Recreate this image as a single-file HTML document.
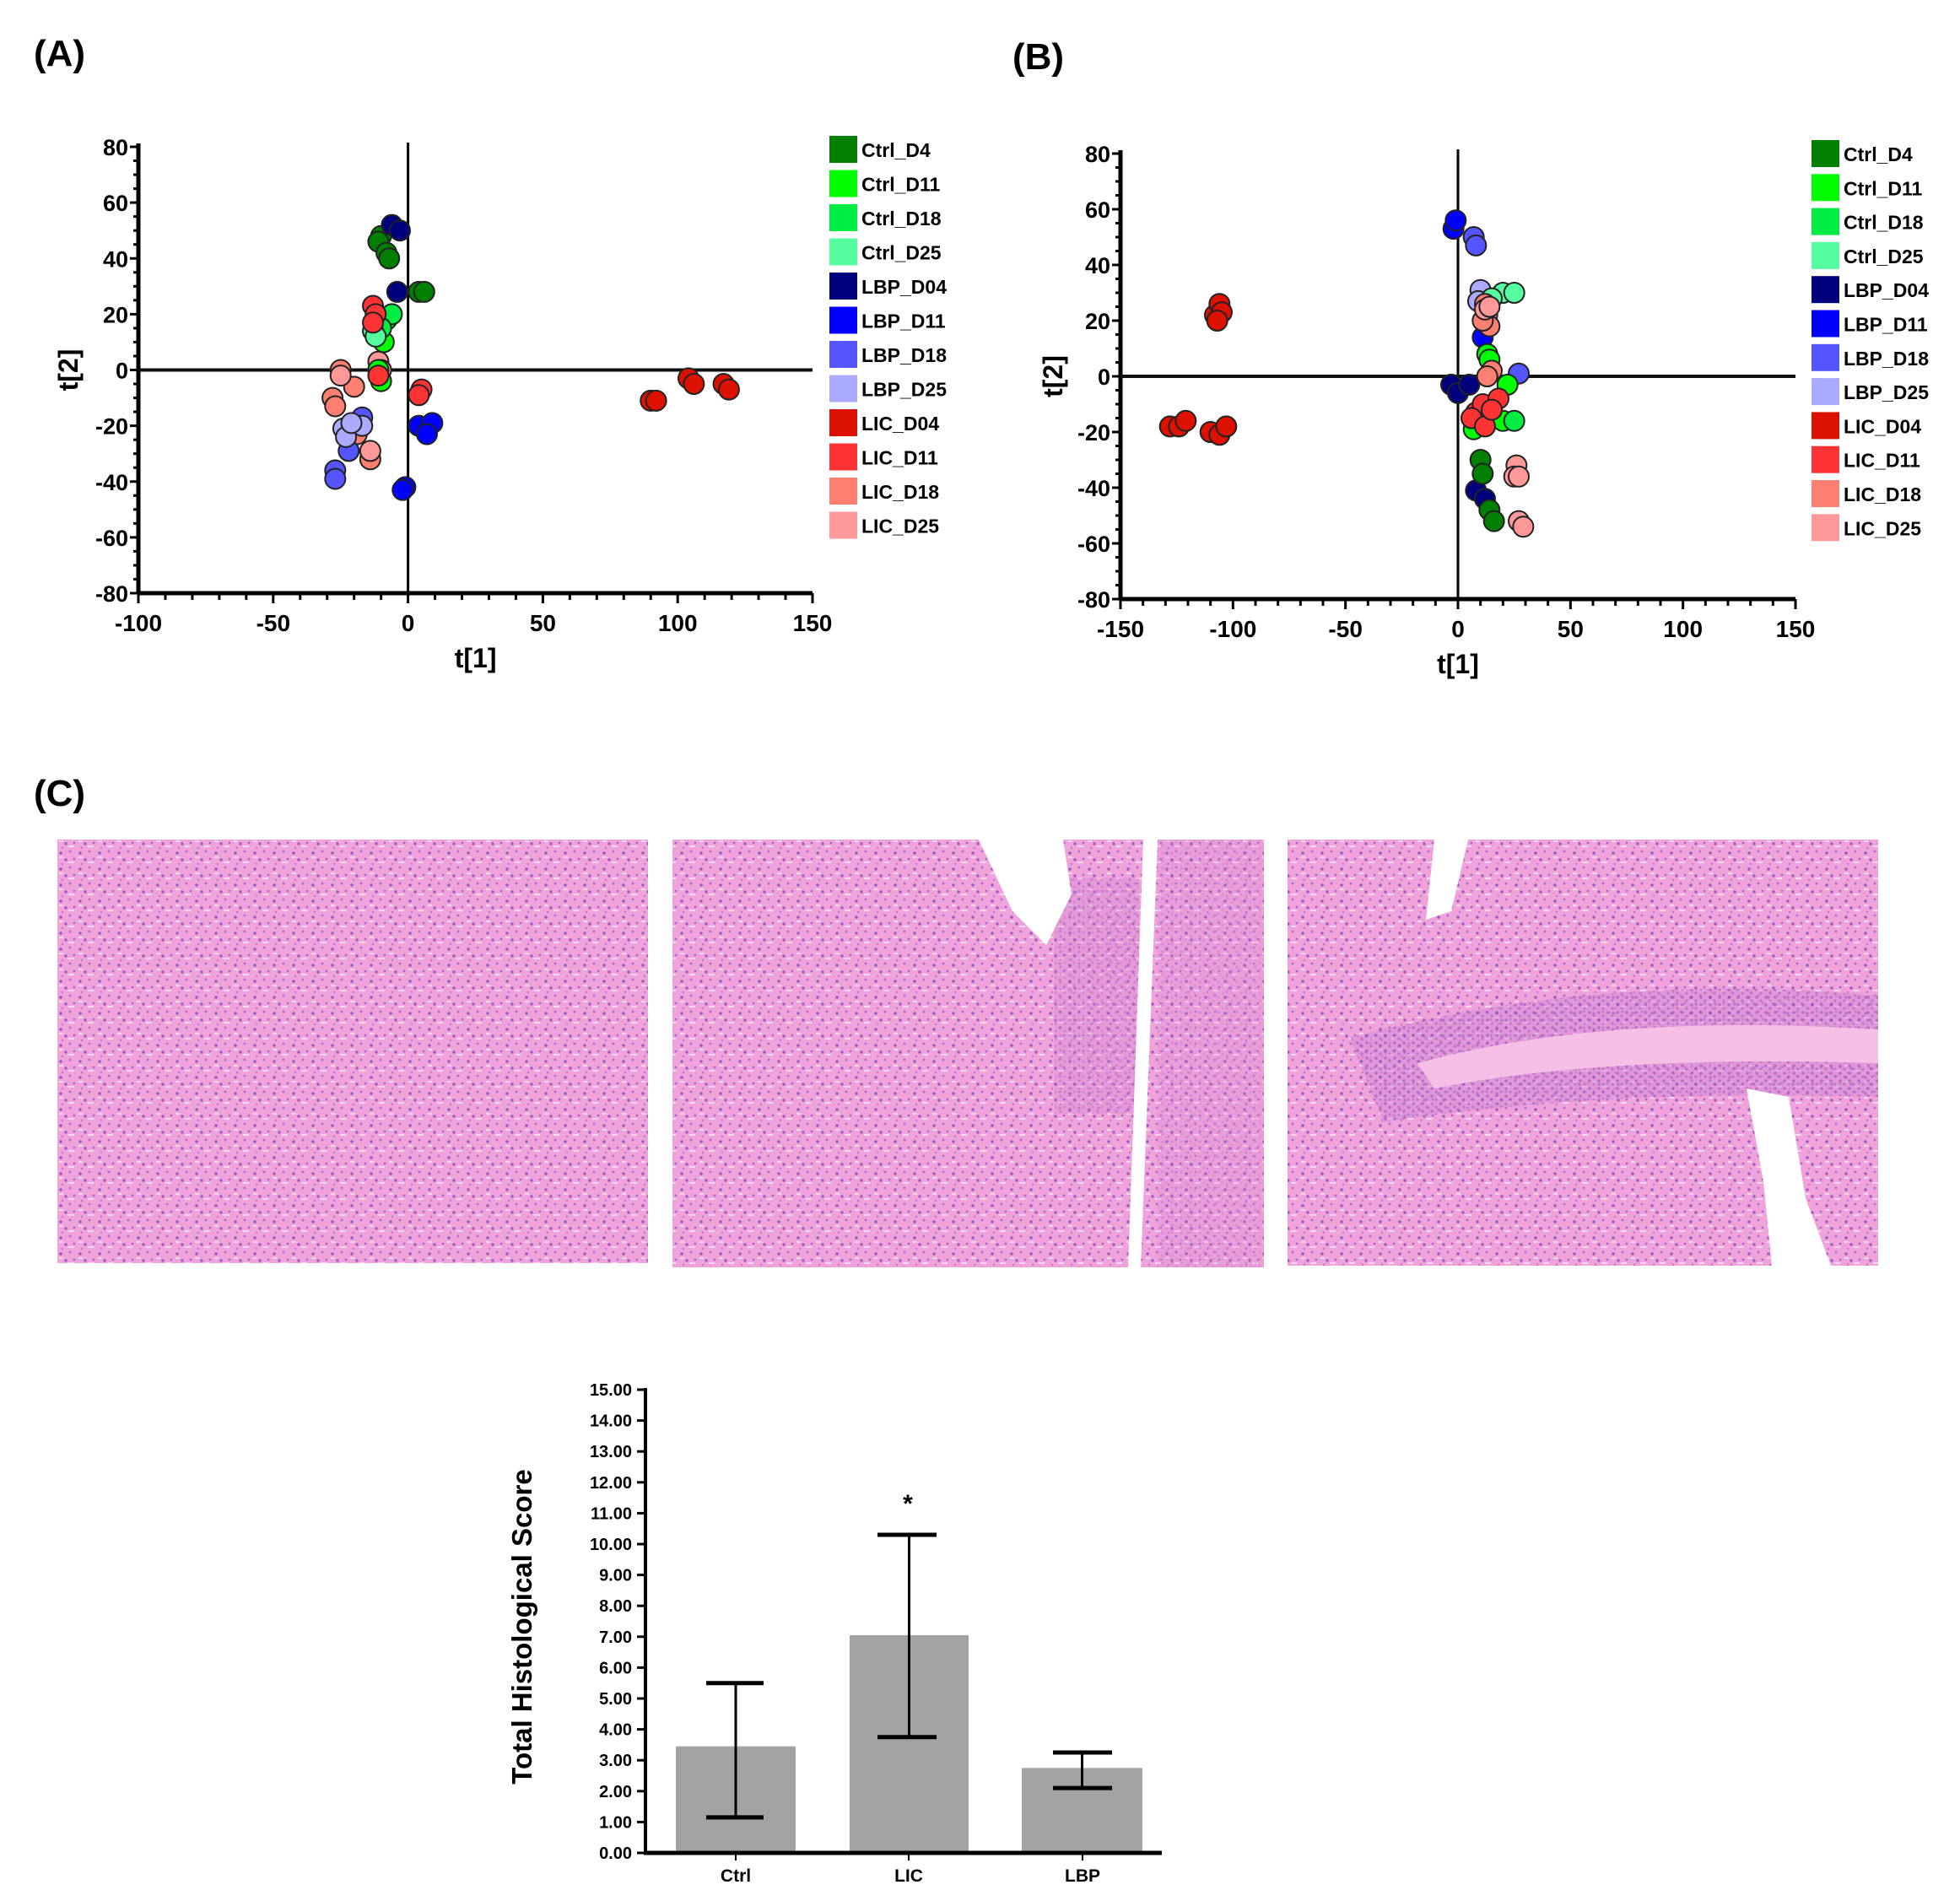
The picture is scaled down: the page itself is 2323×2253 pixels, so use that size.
<!DOCTYPE html>
<html><head><meta charset="utf-8"><style>
html,body{margin:0;padding:0;background:#fff;width:2323px;height:2253px;overflow:hidden;}
svg{position:absolute;left:0;top:0}
text{font-family:"Liberation Sans",Arial,sans-serif;}
</style></head><body>
<svg id="s" width="2323" height="2253" xmlns="http://www.w3.org/2000/svg">
<defs>
<pattern id="tis" width="23" height="19" patternUnits="userSpaceOnUse">
<rect width="23" height="19" fill="#f0a2da"/>
<circle cx="3" cy="4" r="1.8" fill="#9a5cc4"/>
<circle cx="14" cy="2" r="1.5" fill="#b070cc"/>
<circle cx="9" cy="12" r="1.7" fill="#9a5cc4"/>
<circle cx="19" cy="11" r="1.4" fill="#a868c8"/>
<circle cx="5" cy="17" r="1.2" fill="#b878d0"/>
<rect x="12" y="14" width="7" height="2" fill="#fbd6ee"/>
<rect x="1" y="8" width="5" height="2" fill="#fbd6ee"/>
</pattern>
<pattern id="tis2" width="11" height="9" patternUnits="userSpaceOnUse">
<rect width="11" height="9" fill="#d488d4"/>
<circle cx="3" cy="3" r="1.8" fill="#7040b0"/>
<circle cx="8" cy="7" r="1.6" fill="#8050b8"/>
</pattern>
</defs>
<g id="g"></g>
</svg>
<script>
var g=document.getElementById('g');var h='';
function T(x,y,s,sz,anchor,extra){h+='<text x="'+x+'" y="'+y+'" font-size="'+sz+'" font-weight="bold" text-anchor="'+(anchor||'start')+'" '+(extra||'')+'>'+s+'</text>';}
function L(x1,y1,x2,y2,w,c){h+='<line x1="'+x1+'" y1="'+y1+'" x2="'+x2+'" y2="'+y2+'" stroke="'+(c||'#000')+'" stroke-width="'+w+'"/>';}
var C={c4:'#007f00',c11:'#00ff00',c18:'#00ee44',c25:'#55ffa0',b4:'#00007f',b11:'#0000ff',b18:'#5555ff',b25:'#aaaaff',l4:'#dd1100',l11:'#ff3333',l18:'#ff8070',l25:'#ff9999'};
var names=[['c4','Ctrl_D4'],['c11','Ctrl_D11'],['c18','Ctrl_D18'],['c25','Ctrl_D25'],['b4','LBP_D04'],['b11','LBP_D11'],['b18','LBP_D18'],['b25','LBP_D25'],['l4','LIC_D04'],['l11','LIC_D11'],['l18','LIC_D18'],['l25','LIC_D25']];
function scatter(o){
 var X=function(v){return o.x0+(v-o.xmin)/(o.xmax-o.xmin)*(o.x1-o.x0)};
 var Y=function(v){return o.y0+(80-v)/160*(o.y1-o.y0)};
 L(o.x0,o.y0-4,o.x0,o.y1,5);L(o.x0,o.y1,o.x1,o.y1,5);
 for(var v=-80;v<=80;v+=5){var y=Y(v);L(o.x0-(v%20==0?10:6),y,o.x0,y,3);}
 for(var v=-80;v<=80;v+=20){T(o.x0-12,Y(v)+10,v,27,'end');}
 for(var v=o.xmin;v<=o.xmax;v+=10){var x=X(v);L(x,o.y1,x,o.y1+(v%50==0?12:8),3);}
 for(var v=o.xmin;v<=o.xmax;v+=50){T(X(v),o.y1+45,v,28,'middle');}
 L(X(0),o.y0-5,X(0),o.y1,3);L(o.x0,Y(0),o.x1,Y(0),4,'#111');
 T(X(0)+(o.lab1||0),o.y1+88,'t[1]',32,'middle');
 T(o.ylx,Y(0)+14,'t[2]',32,'middle','transform="rotate(-90 '+o.ylx+' '+Y(0)+')"');
 o.pts.forEach(function(p){h+='<circle cx="'+X(p[1])+'" cy="'+Y(p[2])+'" r="12" fill="'+C[p[0]]+'" stroke="#222" stroke-width="2"/>';});
 names.forEach(function(n,i){var y=o.ly+i*o.ls;h+='<rect x="'+o.lx+'" y="'+y+'" width="33" height="32" fill="'+C[n[0]]+'"/>';T(o.lx+38,y+25,n[1],23,'start','font-weight="normal"');});
}
function P(k,arr){return arr.map(function(a){return [k,a[0],a[1]]})}
var A=[].concat(
P('l18',[[-25,0],[-20,-6],[-28,-10],[-27,-13],[-19,-23],[-14,-32]]),
P('l25',[[-25,-2],[-11,3],[-10,0],[-14,-29]]),
P('b18',[[-27,-36],[-27,-39],[-22,-29],[-17,-17]]),
P('b25',[[-24,-21],[-23,-24],[-17,-20],[-21,-19]]),
P('c11',[[-8,18],[-9,10],[-11,0],[-10,-4]]),
P('c18',[[-6,20],[-10,15]]),P('c25',[[-13,14],[-12,12]]),
P('c4',[[-10,48],[-11,46],[-8,42],[-7,40],[4,28],[6,28]]),
P('b4',[[-6,52],[-3,50],[-4,28]]),
P('l11',[[-13,23],[-12,20],[-13,17],[-11,-2],[5,-7],[4,-9]]),
P('b11',[[4,-20],[9,-19],[7,-23],[-1,-42],[-2,-43]]),
P('l4',[[90,-11],[92,-11],[104,-3],[106,-5],[117,-5],[119,-7]]));
var B=[].concat(
P('l4',[[-108,22],[-106,26],[-105,23],[-107,20],[-128,-18],[-124,-18],[-121,-16],[-110,-20],[-106,-21],[-103,-18]]),
P('b11',[[-2,53],[-1,56],[11,14]]),P('b18',[[7,50],[8,47],[27,1]]),P('b25',[[10,31],[9,27]]),
P('c25',[[20,30],[25,30],[15,28]]),
P('c11',[[13,8],[14,6],[22,-3],[7,-19],[20,-16]]),P('c18',[[25,-16]]),
P('b4',[[-3,-3],[0,-6],[5,-3],[8,-41],[12,-44]]),
P('l11',[[8,-13],[11,-10],[18,-8],[6,-15],[12,-18],[15,-12]]),
P('l18',[[12,26],[13,22],[14,18],[11,20],[15,2],[13,0]]),P('l25',[[12,24],[14,25]]),
P('c4',[[10,-30],[11,-35],[14,-48],[16,-52]]),
P('l25',[[26,-32],[25,-36],[27,-36],[27,-52],[29,-54]]));
scatter({x0:164,x1:963,y0:174,y1:703,xmin:-100,xmax:150,pts:A,lx:983,ly:161,ls:40.5,ylx:78,lab1:80});
scatter({x0:1328,x1:2128,y0:182,y1:710,xmin:-150,xmax:150,pts:B,lx:2147,ly:166,ls:40.3,ylx:1245,lab1:0});
T(40,78,'(A)',44);T(1200,82,'(B)',44);T(40,955,'(C)',44);
h+='<rect x="68" y="995" width="700" height="502" fill="url(#tis)"/>';
h+='<rect x="797" y="995" width="701" height="507" fill="url(#tis)"/>';
h+='<rect x="1250" y="1040" width="100" height="280" fill="url(#tis2)" opacity="0.3"/>';
h+='<path d="M1160 995 L1260 995 L1270 1060 L1240 1120 L1200 1080 Z" fill="#fff"/>';
h+='<path d="M1355 995 L1372 995 L1352 1502 L1337 1502 Z" fill="#fff"/>';
h+='<rect x="1372" y="995" width="126" height="507" fill="url(#tis2)" opacity="0.2"/>';
h+='<rect x="1526" y="995" width="700" height="505" fill="url(#tis)"/>';
h+='<path d="M1600 1230 Q1900 1150 2226 1180 L2226 1300 Q1900 1290 1640 1330 Z" fill="url(#tis2)" opacity="0.5"/>';
h+='<path d="M1680 1260 Q1900 1200 2226 1220 L2226 1260 Q1900 1250 1700 1290 Z" fill="#f6c0e6"/>';
h+='<path d="M2070 1290 L2120 1300 L2140 1420 L2170 1500 L2100 1500 L2090 1400 Z" fill="#fff"/>';
h+='<path d="M1700 995 L1740 995 L1720 1080 L1690 1090 Z" fill="#fff"/>';
var bx0=765,by0=2196,u=36.6;function BY(v){return by0-v*u}
[[801,943,3.45,1.15,5.5,837,905],[1007,1148,7.05,3.75,10.3,1040,1110],[1211,1354,2.75,2.1,3.25,1248,1318]].forEach(function(b){
 h+='<rect x="'+b[0]+'" y="'+BY(b[2])+'" width="'+(b[1]-b[0])+'" height="'+(b[2]*u)+'" fill="#a3a3a3"/>';
 var cx=(b[0]+b[1])/2;L(cx,BY(b[3]),cx,BY(b[4]),3);L(b[5],BY(b[3]),b[6],BY(b[3]),5);L(b[5],BY(b[4]),b[6],BY(b[4]),5);});
L(bx0,BY(15)-2,bx0,by0,4);L(bx0-2,by0,1377,by0,5);
for(var v=0;v<=15;v++){L(bx0-10,BY(v),bx0,BY(v),3);T(bx0-16,BY(v)+7,v.toFixed(2),20,'end');}
[[872,'Ctrl'],[1077,'LIC'],[1283,'LBP']].forEach(function(a){L(a[0],by0,a[0],by0+9,2);T(a[0],2230,a[1],21,'middle');});
T(1076,1792,'*',30,'middle');
T(630,1928,'Total Histological Score',33,'middle','transform="rotate(-90 630 1928)"');
g.innerHTML=h;
</script>
</body></html>
